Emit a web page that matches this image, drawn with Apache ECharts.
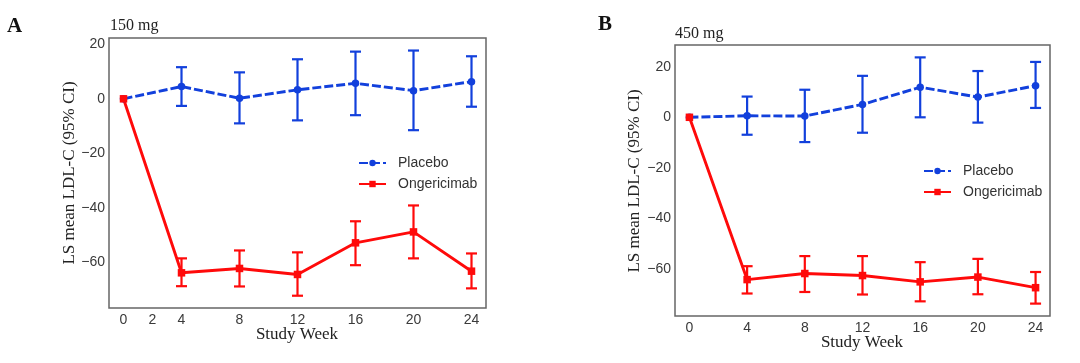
<!DOCTYPE html>
<html>
<head>
<meta charset="utf-8">
<script src="https://cdn.jsdelivr.net/npm/echarts@6/dist/echarts.min.js"></script>
<style>html,body{margin:0;padding:0;background:#fff;}#main{width:1080px;height:363px;}</style>
</head>
<body>
<div id="main"></div>
<script>
const weeks = [0, 4, 8, 12, 16, 20, 24];
const aXTicks = [0, 2, 4, 8, 12, 16, 20, 24];
const bXTicks = [0, 4, 8, 12, 16, 20, 24];
const yTicks = [-60, -40, -20, 0, 20];

const aPlaceboMean = [0, 4.5, 0.2, 3.3, 5.7, 3.0, 6.3];
const aPlaceboLow  = [null, -2.6, -9.0, -7.9, -6.0, -11.5, -2.9];
const aPlaceboHigh = [null, 11.6, 9.7, 14.5, 17.3, 17.7, 15.6];
const aOngMean = [0, -63.8, -62.2, -64.4, -52.8, -48.8, -63.2];
const aOngLow  = [null, -68.7, -68.8, -72.2, -61.0, -58.5, -69.5];
const aOngHigh = [null, -58.5, -55.6, -56.3, -44.9, -39.1, -56.7];

const bPlaceboMean = [0, 0.6, 0.5, 5.1, 11.9, 8.0, 12.5];
const bPlaceboLow  = [null, -6.9, -9.8, -6.1, 0.0, -2.1, 3.7];
const bPlaceboHigh = [null, 8.2, 10.9, 16.4, 23.7, 18.3, 21.9];
const bOngMean = [0, -64.2, -61.8, -62.6, -65.1, -63.2, -67.4];
const bOngLow  = [null, -69.7, -69.1, -70.1, -72.8, -70.0, -73.7];
const bOngHigh = [null, -58.9, -54.9, -54.9, -57.3, -56.0, -61.2];

const BLUE = '#1240dc';
const RED = '#ff0a0a';
const SANS = '"Liberation Sans", Arial, sans-serif';
const SERIF = '"Liberation Serif", "Times New Roman", serif';

function pairs(xs, ys) { return xs.map((x, i) => [x, ys[i]]); }
function bars(xs, lo, hi) {
  const out = [];
  xs.forEach((x, i) => { if (lo[i] != null && hi[i] != null) out.push([x, lo[i], hi[i]]); });
  return out;
}
function errSeries(idx, data, color) {
  return {
    type: 'custom', xAxisIndex: idx, yAxisIndex: idx, z: 3,
    data: data, silent: true,
    renderItem: function (params, api) {
      const x = api.value(0);
      const p1 = api.coord([x, api.value(1)]);
      const p2 = api.coord([x, api.value(2)]);
      const hw = 5.5;
      const st = { stroke: color, lineWidth: 2.2 };
      return { type: 'group', children: [
        { type: 'line', shape: { x1: p1[0], y1: p1[1], x2: p2[0], y2: p2[1] }, style: st },
        { type: 'line', shape: { x1: p1[0] - hw, y1: p1[1], x2: p1[0] + hw, y2: p1[1] }, style: st },
        { type: 'line', shape: { x1: p2[0] - hw, y1: p2[1], x2: p2[0] + hw, y2: p2[1] }, style: st }
      ]};
    }
  };
}
function lineSeries(idx, name, data, color, symbol, dashed) {
  return {
    type: 'line', name: name, xAxisIndex: idx, yAxisIndex: idx, z: 4,
    data: data, symbol: symbol, symbolSize: 7.5, showSymbol: true,
    lineStyle: { color: color, width: 2.9, type: dashed ? [9, 3] : 'solid' },
    itemStyle: { color: color }, animation: false
  };
}
function xAxis(idx, ticks) {
  return {
    type: 'value', gridIndex: idx, min: -1, max: 25,
    axisLine: { show: false }, axisTick: { show: false }, splitLine: { show: false },
    axisLabel: { customValues: ticks, margin: 5, color: '#3a3a3a', fontFamily: SANS, fontSize: 14 }
  };
}
function yAxis(idx, min, max) {
  return {
    type: 'value', gridIndex: idx, min: min, max: max,
    axisLine: { show: false }, axisTick: { show: false }, splitLine: { show: false },
    axisLabel: { customValues: yTicks, margin: 4, color: '#3a3a3a', fontFamily: SANS, fontSize: 14,
      formatter: v => String(v).replace('-', '\u2212') }
  };
}
function legend(left, top) {
  return {
    left: left, top: top, orient: 'vertical', itemWidth: 27, itemHeight: 8, itemGap: 7,
    data: ['Placebo', 'Ongericimab'], selectedMode: false,
    textStyle: { fontFamily: SANS, fontSize: 14, color: '#333', padding: [0, 0, 0, 7] }
  };
}

const chart = echarts.init(document.getElementById('main'), null, { renderer: 'canvas' });
chart.setOption({
  animation: false,
  backgroundColor: '#fff',
  grid: [
    { left: 109, top: 38, width: 377, height: 270, show: true, borderColor: '#666', borderWidth: 1.5, backgroundColor: 'transparent' },
    { left: 675, top: 45, width: 375, height: 271, show: true, borderColor: '#666', borderWidth: 1.5, backgroundColor: 'transparent' }
  ],
  xAxis: [xAxis(0, aXTicks), xAxis(1, bXTicks)],
  yAxis: [yAxis(0, -76.7, 22.3), yAxis(1, -78.6, 28.6)],
  legend: [legend(353, 151), legend(918, 159)],
  series: [
    errSeries(0, bars(weeks, aPlaceboLow, aPlaceboHigh), BLUE),
    lineSeries(0, 'Placebo', pairs(weeks, aPlaceboMean), BLUE, 'circle', true),
    errSeries(0, bars(weeks, aOngLow, aOngHigh), RED),
    lineSeries(0, 'Ongericimab', pairs(weeks, aOngMean), RED, 'rect', false),
    errSeries(1, bars(weeks, bPlaceboLow, bPlaceboHigh), BLUE),
    lineSeries(1, 'Placebo', pairs(weeks, bPlaceboMean), BLUE, 'circle', true),
    errSeries(1, bars(weeks, bOngLow, bOngHigh), RED),
    lineSeries(1, 'Ongericimab', pairs(weeks, bOngMean), RED, 'rect', false)
  ],
  graphic: [
    { type: 'text', left: 7, top: 16, style: { text: 'A', font: 'bold 21px ' + SERIF, fill: '#111' } },
    { type: 'text', left: 110, top: 18, style: { text: '150 mg', font: '16px ' + SERIF, fill: '#222' } },
    { type: 'text', left: 598, top: 14, style: { text: 'B', font: 'bold 21px ' + SERIF, fill: '#111' } },
    { type: 'text', left: 675, top: 26, style: { text: '450 mg', font: '16px ' + SERIF, fill: '#222' } },
    { type: 'text', x: 70, y: 173, rotation: Math.PI / 2,
      style: { text: 'LS mean LDL-C (95% CI)', font: '17px ' + SERIF, fill: '#222', textAlign: 'center', textVerticalAlign: 'middle' } },
    { type: 'text', x: 635, y: 181, rotation: Math.PI / 2,
      style: { text: 'LS mean LDL-C (95% CI)', font: '17px ' + SERIF, fill: '#222', textAlign: 'center', textVerticalAlign: 'middle' } },
    { type: 'text', x: 297, y: 335,
      style: { text: 'Study Week', font: '17px ' + SERIF, fill: '#222', textAlign: 'center', textVerticalAlign: 'middle' } },
    { type: 'text', x: 862, y: 343,
      style: { text: 'Study Week', font: '17px ' + SERIF, fill: '#222', textAlign: 'center', textVerticalAlign: 'middle' } }
  ]
});
</script>
</body>
</html>
